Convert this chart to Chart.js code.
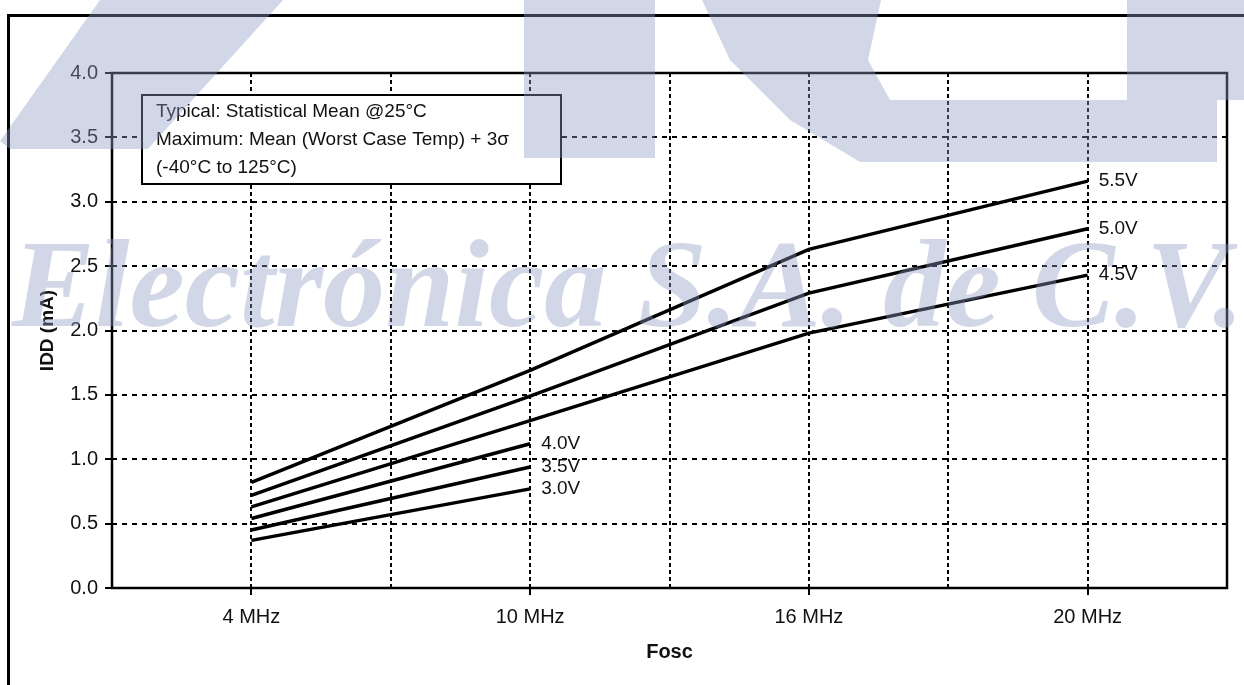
<!DOCTYPE html>
<html lang="en">
<head>
<meta charset="UTF-8">
<title>IDD vs FOSC</title>
<script src="https://cdn.jsdelivr.net/npm/chart.js"></script>
<style>
  html, body { margin: 0; padding: 0; background: #fff; }
  #wrap { width: 1244px; height: 685px; }
</style>
</head>
<body>
<div id="wrap"><canvas id="iddChart" width="1244" height="685"></canvas></div>
<script>
// frequency categories (equally spaced on the x axis)
const categories = ['4 MHz', '10 MHz', '16 MHz', '20 MHz'];

// IDD (mA) per supply voltage
const seriesNames = ['5.5V', '5.0V', '4.5V', '4.0V', '3.5V', '3.0V'];
const idd55 = [0.82, 1.69, 2.63, 3.16];
const idd50 = [0.72, 1.49, 2.29, 2.79];
const idd45 = [0.63, 1.30, 1.98, 2.43];
const idd40 = [0.54, 1.12];
const idd35 = [0.45, 0.94];
const idd30 = [0.37, 0.77];

const yMin = 0, yMax = 4.0, yStep = 0.5;
const noteLines = [
  'Typical: Statistical Mean @25°C',
  'Maximum: Mean (Worst Case Temp) + 3σ',
  '(-40°C to 125°C)'
];

const allSeries = [idd55, idd50, idd45, idd40, idd35, idd30];
const datasets = allSeries.map((vals, i) => ({
  label: seriesNames[i],
  data: vals.map((v, k) => ({ x: k, y: v })),
  borderColor: '#000',
  borderWidth: 3.5,
  pointRadius: 0,
  tension: 0,
  fill: false
}));

const FONT = 'Arial, "Liberation Sans", sans-serif';

// frame, note box, end labels and the watermark
const decorPlugin = {
  id: 'decor',
  beforeDraw(chart) {
    const ctx = chart.ctx;
    ctx.save();
    ctx.fillStyle = '#fff';
    ctx.fillRect(0, 0, chart.width, chart.height);
    ctx.restore();
  },
  afterDraw(chart) {
    const ctx = chart.ctx;
    const a = chart.chartArea;
    const xs = chart.scales.x, ys = chart.scales.y;
    ctx.save();

    // outer frame
    ctx.strokeStyle = '#000';
    ctx.lineWidth = 3;
    ctx.beginPath();
    ctx.moveTo(8.5, chart.height + 2);
    ctx.lineTo(8.5, 15.5);
    ctx.lineTo(chart.width + 2, 15.5);
    ctx.stroke();

    // plot border
    ctx.lineWidth = 2.5;
    ctx.strokeRect(a.left, a.top, a.right - a.left, a.bottom - a.top);

    // note box
    const bx = a.left + 30, by = a.top + 22, bw = 419, bh = 89;
    ctx.fillStyle = '#fff';
    ctx.fillRect(bx, by, bw, bh);
    ctx.lineWidth = 2;
    ctx.strokeRect(bx, by, bw, bh);
    ctx.fillStyle = '#111';
    ctx.font = '19px ' + FONT;
    ctx.textBaseline = 'middle';
    ctx.textAlign = 'left';
    noteLines.forEach((t, i) => ctx.fillText(t, bx + 14, by + 17 + i * 28));

    // series labels at curve ends
    allSeries.forEach((vals, i) => {
      const k = vals.length - 1;
      ctx.fillText(seriesNames[i], xs.getPixelForValue(k) + 11, ys.getPixelForValue(vals[k]));
    });

    // watermark
    ctx.fillStyle = 'rgba(140,155,196,0.4)';
    ctx.beginPath();
    ctx.moveTo(100, 0); ctx.lineTo(283, 0); ctx.lineTo(148, 149); ctx.lineTo(10, 149); ctx.lineTo(0, 141);
    ctx.closePath();
    ctx.fill();
    ctx.fillRect(524, 0, 131, 158);
    ctx.beginPath();
    ctx.moveTo(702, 0); ctx.lineTo(881, 0); ctx.lineTo(868, 60); ctx.lineTo(890, 100);
    ctx.lineTo(1127, 100); ctx.lineTo(1127, 0); ctx.lineTo(1244, 0); ctx.lineTo(1244, 100);
    ctx.lineTo(1217, 100); ctx.lineTo(1217, 162); ctx.lineTo(860, 162); ctx.lineTo(790, 120);
    ctx.lineTo(730, 60);
    ctx.closePath();
    ctx.fill();

    const wm = 'Electrónica S.A. de C.V.';
    ctx.font = 'italic bold 124px "Liberation Serif", "Times New Roman", serif';
    const w = ctx.measureText(wm).width;
    ctx.translate(12, 326);
    ctx.scale(1232 / w, 1);
    ctx.textBaseline = 'alphabetic';
    ctx.fillText(wm, 0, 0);

    ctx.restore();
  }
};

new Chart(document.getElementById('iddChart'), {
  type: 'line',
  data: { datasets },
  options: {
    responsive: false,
    animation: false,
    layout: { padding: { top: 73, right: 17, left: 0, bottom: 0 } },
    plugins: {
      legend: { display: false },
      tooltip: { enabled: false }
    },
    scales: {
      x: {
        type: 'linear',
        min: -0.5,
        max: 3.5,
        afterFit(scale) { scale.height = 97; },
        afterBuildTicks(scale) {
          const t = [];
          for (let v = -0.5; v <= 3.5001; v += 0.5) t.push({ value: v });
          scale.ticks = t;
        },
        ticks: {
          autoSkip: false,
          maxRotation: 0,
          padding: 10,
          color: '#111',
          font: { size: 20, family: FONT },
          callback: (v) => Number.isInteger(v) ? categories[v] : ''
        },
        grid: {
          color: '#000',
          lineWidth: 2,
          tickLength: 7,
          tickBorderDash: [],
          tickColor: (c) => (c.tick && Number.isInteger(c.tick.value)) ? '#000' : 'rgba(0,0,0,0)'
        },
        border: { display: false, dash: [4, 3] },
        title: {
          display: true,
          text: 'Fosc',
          color: '#111',
          font: { size: 20, weight: 'bold', family: FONT },
          padding: { top: 0, bottom: 21 }
        }
      },
      y: {
        min: yMin,
        max: yMax,
        afterFit(scale) { scale.width = 112; },
        ticks: {
          stepSize: yStep,
          padding: 7,
          color: '#111',
          font: { size: 20, family: FONT },
          callback: (v) => v.toFixed(1)
        },
        grid: {
          color: '#000',
          lineWidth: 2,
          tickLength: 7,
          tickBorderDash: []
        },
        border: { display: false, dash: [5, 5] },
        title: {
          display: true,
          text: 'IDD (mA)',
          color: '#111',
          font: { size: 19, weight: 'bold', family: FONT },
          padding: { top: 36, bottom: 0 }
        }
      }
    }
  },
  plugins: [decorPlugin]
});
</script>
</body>
</html>
